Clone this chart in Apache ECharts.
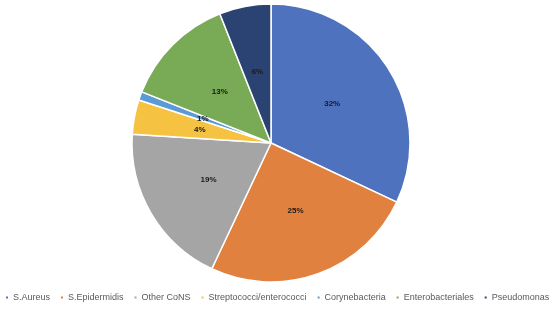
<!DOCTYPE html>
<html>
<head>
<meta charset="utf-8">
<script src="https://cdn.jsdelivr.net/npm/echarts@6/dist/echarts.min.js"></script>
<style>
  html, body { margin: 0; padding: 0; background: #fff; }
  #chart { width: 550px; height: 313px; }
</style>
</head>
<body>
<div id="chart"></div>
<script>
var categories = ['S.Aureus', 'S.Epidermidis', 'Other CoNS', 'Streptococci/enterococci', 'Corynebacteria', 'Enterobacteriales', 'Pseudomonas']
var values = [32, 25, 19, 4, 1, 13, 6]
var colors = ['#4E72BE', '#E0813F', '#A5A5A5', '#F6C242', '#5B9BD5', '#79AA55', '#2B4373']

var chart = echarts.init(document.getElementById('chart'))
var data = categories.map(function(name, i) {
    return { name: name, value: values[i] }
})

chart.setOption({
    animation: false,
    color: colors,
    legend: {
        top: 293,
        left: 4,
        width: 546,
        padding: 0,
        icon: 'rect',
        itemWidth: 4,
        itemHeight: 4,
        itemGap: 9,
        textStyle: { fontFamily: 'Liberation Sans', fontSize: 9, color: '#595959', padding: [0, 0, 0, -1] },
        data: categories
    },
    series: [{
        type: 'pie',
        center: [271, 143],
        radius: 139,
        startAngle: 90,
        clockwise: true,
        data: data,
        itemStyle: { borderColor: '#fff', borderWidth: 1.5 },
        label: {
            position: 'inside',
            formatter: '{c}%',
            fontFamily: 'Liberation Sans',
            fontSize: 8,
            fontWeight: 'bold',
            color: '#1a1a1a'
        },
        labelLine: { show: false }
    }]
})
</script>
</body>
</html>
